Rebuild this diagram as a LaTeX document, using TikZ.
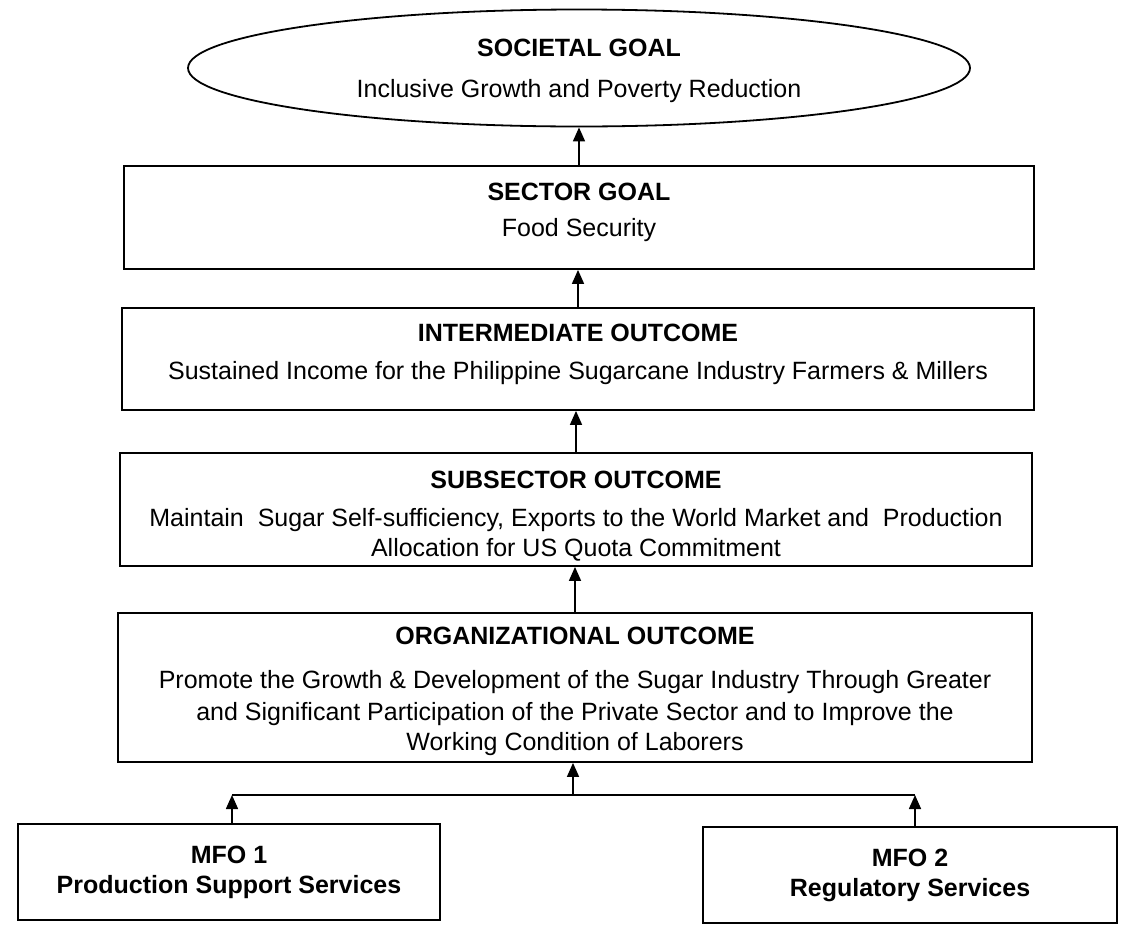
\documentclass[tikz,border=0pt]{standalone}
\usepackage{fontspec}
\setmainfont{Liberation Sans}
\usetikzlibrary{shapes.geometric,arrows.meta}
\begin{document}
\begin{tikzpicture}[x=1pt,y=-1pt,
  box/.style={draw=black,line width=1.8pt,fill=white,inner sep=0pt,align=center,
    font=\fontsize{25}{30}\selectfont},
  arr/.style={line width=1.6pt,-{Triangle[length=14pt,width=12pt]}}]
\useasboundingbox (0,0) rectangle (1127,927);
\node[box,ellipse,minimum width=782pt,minimum height=117pt] (soc) at (579,68)
  {\rule{0pt}{24pt}\textbf{SOCIETAL GOAL}\\[11pt]Inclusive Growth and Poverty Reduction};
\node[box,minimum width=910pt,minimum height=103pt] (sec) at (579,217.5)
  {\textbf{SECTOR GOAL}\\[6pt]Food Security\rule[-16pt]{0pt}{16pt}};
\node[box,minimum width=912pt,minimum height=102pt] (int) at (578,359)
  {\textbf{INTERMEDIATE OUTCOME}\\[8pt]Sustained Income for the Philippine Sugarcane Industry Farmers \& Millers\rule[-14pt]{0pt}{14pt}};
\node[box,minimum width=912pt,minimum height=113pt] (sub) at (576,509.5)
  {\rule{0pt}{30pt}\textbf{SUBSECTOR OUTCOME}\\[8pt]Maintain\ \ Sugar Self-sufficiency, Exports to the World Market and\ \ Production\\Allocation for US Quota Commitment};
\node[box,minimum width=914pt,minimum height=149pt] (org) at (575,687.5)
  {\rule{0pt}{26pt}\textbf{ORGANIZATIONAL OUTCOME}\\[14pt]Promote the Growth \& Development of the Sugar Industry Through Greater\\[2pt]and Significant Participation of the Private Sector and to Improve the\\Working Condition of Laborers};
\node[box,minimum width=422pt,minimum height=96pt,font=\fontsize{25}{30}\selectfont\bfseries] (mfo1) at (229,872)
  {MFO 1\\Production Support Services};
\node[box,minimum width=414pt,minimum height=96pt,font=\fontsize{25}{30}\selectfont\bfseries] (mfo2) at (910,875)
  {MFO 2\\Regulatory Services};
\coordinate (j) at (573,795);
\draw[arr] (sec.north -| soc.south) -- (soc.south);
\draw[arr] (int.north) -- (int.north |- sec.south);
\draw[arr] (sub.north) -- (sub.north |- int.south);
\draw[arr] (org.north) -- (org.north |- sub.south);
\draw[arr] (j) -- (j |- org.south);
\draw[line width=1.6pt] (232,795) -- (j) -- (915,795);
\draw[arr] (mfo1.north -| 232,0) -- (232,795);
\draw[arr] (mfo2.north -| 915,0) -- (915,795);
\end{tikzpicture}
\end{document}
